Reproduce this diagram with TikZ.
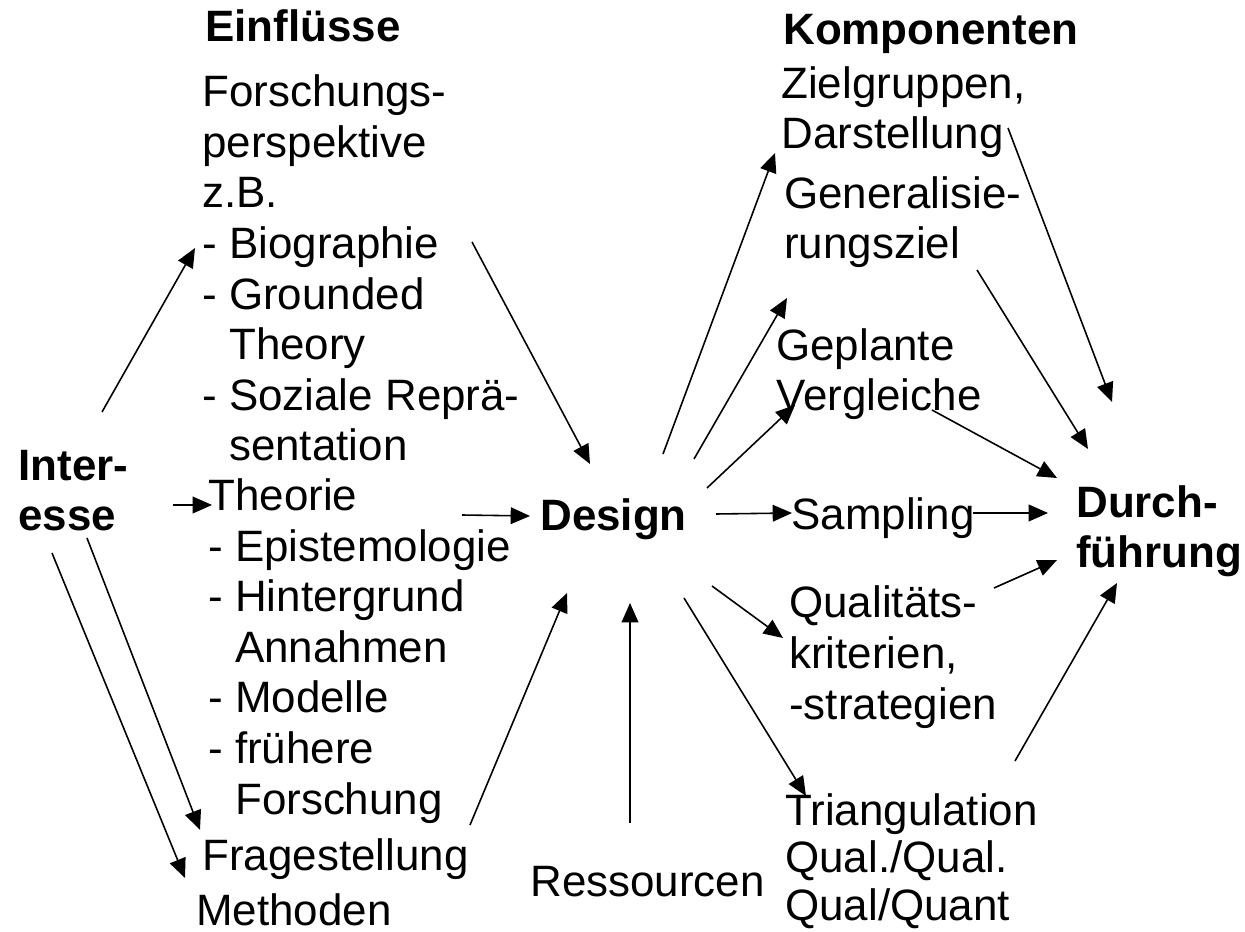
\documentclass[tikz,border=0pt]{standalone}
\usepackage{fontspec}
\setmainfont{Liberation Sans}
\usetikzlibrary{arrows.meta}

\begin{document}
\begin{tikzpicture}[x=0.02cm,y=-0.02cm,
  txt/.style={anchor=base west,inner sep=0pt,align=left,font=\fontsize{25}{28.8}\selectfont},
  hd/.style={txt,font=\fontsize{25}{28.8}\selectfont\bfseries},
  arr/.style={-{Triangle[length=11pt,width=9.5pt]},line width=0.9pt}]
\useasboundingbox (0,0) rectangle (1245,932);

% left side (multi-line nodes sit on their last line)
\node [hd] (inter) at (18,531) {Inter-\\esse};
\node [hd] (einfl) at (205,42) {Einflüsse};
\node [txt] (forsch) at (202,461) {Forschungs-\\perspektive\\z.B.\\- Biographie\\- Grounded\\\phantom{- }Theory\\- Soziale Reprä-\\\phantom{- }sentation};
\node [txt] (theo) at (208,814) {Theorie\\- Epistemologie\\- Hintergrund\\\phantom{- }Annahmen\\- Modelle\\- frühere\\\phantom{- }Forschung};
\node [txt] (frage) at (202,870) {Fragestellung};
\node [txt] (meth) at (196,925) {Methoden};

% middle
\node [hd] (design) at (540,531) {Design};
\node [txt] (res) at (530,896) {Ressourcen};

% right side
\node [hd] (komp) at (783,45) {Komponenten};
\node [txt] (ziel) at (781,149) {Zielgruppen,\\Darstellung};
\node [txt] (gen) at (784,259) {Generalisie-\\rungsziel};
\node [txt] (vgl) at (776,411) {Geplante\\Vergleiche};
\node [txt] (samp) at (791,530) {Sampling};
\node [txt] (qual) at (789,719) {Qualitäts-\\kriterien,\\-strategien};
\node [txt,font=\fontsize{25}{27}\selectfont] (tri) at (785,920) {Triangulation\\Qual./Qual.\\Qual/Quant};
\node [hd] (durch) at (1076,568) {Durch-\\führung};

% Interesse -> Einfluesse
\draw [arr] ([shift={(84,-119)}]inter.base west) -- ([shift={(-7,-213)}]forsch.base west);
\draw [arr] ([shift={(155,-26)}]inter.base west) -- ([shift={(4,-309)}]theo.base west);
\draw [arr] ([shift={(69,7)}]inter.base west) -- ([shift={(-2,-40)}]frage.base west);
\draw [arr] ([shift={(34,22)}]inter.base west) -- ([shift={(-11,-47)}]meth.base west);

% Einfluesse -> Design
\draw [arr] ([shift={(270,-219)}]forsch.base west) -- ([shift={(50,-67)}]design.base west);
\draw [arr] ([shift={(254,-299)}]theo.base west) -- ([shift={(-10,-15)}]design.base west);
\draw [arr] ([shift={(268,-45)}]frage.base west) -- ([shift={(27,62)}]design.base west);
\draw [arr] ([shift={(100,-73)}]res.base west) -- ([shift={(90,72)}]design.base west);

% Design -> Komponenten
\draw [arr] ([shift={(123,-77)}]design.base west) -- ([shift={(-6,4)}]ziel.base west);
\draw [arr] ([shift={(154,-72)}]design.base west) -- ([shift={(3,39)}]gen.base west);
\draw [arr] ([shift={(167,-43)}]design.base west) -- ([shift={(19,-6)}]vgl.base west);
\draw [arr] ([shift={(176,-17)}]design.base west) -- ([shift={(1,-17)}]samp.base west);
\draw [arr] ([shift={(172,55)}]design.base west) -- ([shift={(-6,-81)}]qual.base west);
\draw [arr] ([shift={(144,67)}]design.base west) -- ([shift={(21,-124)}]tri.base west);

% Komponenten -> Durchfuehrung
\draw [arr] ([shift={(227,-21)}]ziel.base west) -- ([shift={(36,-166)}]durch.base west);
\draw [arr] ([shift={(193,11)}]gen.base west) -- ([shift={(12,-119)}]durch.base west);
\draw [arr] ([shift={(156,-1)}]vgl.base west) -- ([shift={(-19,-90)}]durch.base west);
\draw [arr] ([shift={(182,-17)}]samp.base west) -- ([shift={(-28,-55)}]durch.base west);
\draw [arr] ([shift={(205,-131)}]qual.base west) -- ([shift={(-19,-8)}]durch.base west);
\draw [arr] ([shift={(230,-159)}]tri.base west) -- ([shift={(41,15)}]durch.base west);
\end{tikzpicture}
\end{document}
